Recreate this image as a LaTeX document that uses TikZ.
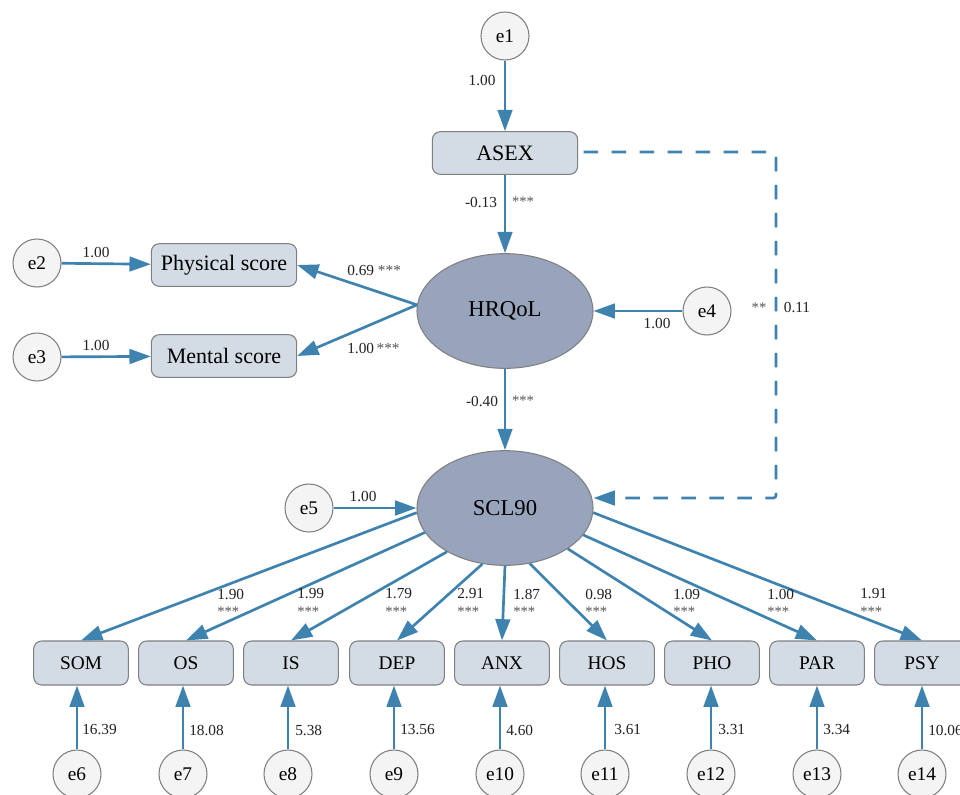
\documentclass[tikz,border=0pt]{standalone}
\usepackage{fontspec}
\setmainfont{Liberation Serif}
\usetikzlibrary{arrows.meta,shapes.geometric}
\definecolor{arr}{HTML}{3E82B0}
\definecolor{boxfill}{HTML}{D3DCE4}
\definecolor{latfill}{HTML}{98A4BB}
\definecolor{errfill}{HTML}{F4F4F4}
\definecolor{bord}{HTML}{808080}
\definecolor{lbl}{HTML}{222222}
\definecolor{star}{HTML}{555555}
\begin{document}
\begin{tikzpicture}[x=0.75pt,y=-0.75pt,
  obsbig/.style={draw=bord,fill=boxfill,rounded corners=6pt,minimum width=109pt,minimum height=32pt,inner sep=0pt,line width=0.8pt,font=\fontsize{16.5}{16.5}\selectfont},
  obs/.style={draw=bord,fill=boxfill,rounded corners=6pt,minimum width=71pt,minimum height=33pt,inner sep=0pt,line width=0.8pt,font=\fontsize{14.5}{14.5}\selectfont},
  lat/.style={ellipse,draw=bord,fill=latfill,minimum width=132pt,minimum height=86pt,inner sep=0pt,line width=0.8pt,font=\fontsize{17}{17}\selectfont},
  errc/.style={circle,draw=bord,fill=errfill,minimum size=36pt,inner sep=0pt,line width=0.8pt,font=\fontsize{14.5}{14.5}\selectfont},
  pth/.style={draw=arr,line width=2pt,-{Triangle[length=16pt,width=11pt]}},
  dsh/.style={draw=arr,line width=2pt,dash pattern=on 11pt off 10pt,rounded corners=2pt,-{Triangle[length=16pt,width=11pt]}},
  num/.style={text=lbl,inner sep=0pt,font=\fontsize{11.5}{11.5}\selectfont},
  stars/.style={text=star,inner sep=0pt,font=\fontsize{11}{11}\selectfont}
]
\useasboundingbox (0,0) rectangle (960,794);
\clip (0,0) rectangle (960,794);
\fill[white] (0,0) rectangle (960,794);

% main nodes
\node[errc] (e1) at (505,36) {e1};
\node[obsbig] (asex) at (505,153) {ASEX};
\node[lat] (hrq) at (505,311) {HRQoL};
\node[obsbig] (phys) at (224,265) {Physical score};
\node[obsbig] (ment) at (224,356) {Mental score};
\node[errc] (e2) at (37,263) {e2};
\node[errc] (e3) at (37,357) {e3};
\node[errc] (e4) at (707,311) {e4};
\node[lat] (scl) at (505,508) {SCL90};
\node[errc] (e5) at (309,508) {e5};

% bottom indicators and errors
\foreach \nm/\bx/\ex/\en/\ang in {SOM/81/77/6/183,OS/186/183/7/197,IS/291/288/8/217,DEP/397/394/9/248,ANX/502/500/10/270,HOS/607/605/11/294,PHO/712/711/12/327,PAR/817/817/13/341,PSY/922/922/14/357}{
  \node[obs] (b\nm) at (\bx,663) {\nm};
  \node[errc] (e\en) at (\ex,774) {e\en};
  \draw[pth] (e\en.north) -- (e\en.north |- b\nm.south);
  \draw[pth] (scl.\ang) -- (b\nm.north);
}

% paths
\draw[pth] (e1) -- (asex);
\draw[pth] (asex) -- (hrq);
\draw[pth] (hrq) -- (scl);
\draw[pth] (e2) -- (phys);
\draw[pth] (e3) -- (ment);
\draw[pth] (hrq.176) -- (phys.east);
\draw[pth] (hrq.176) -- (ment.east);
\draw[pth] (e4) -- (hrq);
\draw[pth] (e5) -- (scl);

\coordinate (c1) at (776,152);
\coordinate (c2) at (776,498);
\draw[dsh,shorten <=4pt] (asex.east |- c1) -- (c1) -- (c2) -- (scl.east |- c2);

% labels
\node[num] (l1) at (482,81) {1.00};
\node[num] (l2) at (481,203) {-0.13};
\node[stars] (s2) at (523,202) {***};
\node[num] (l3) at (96,252) {1.00};
\node[num] (l4) at (96,345) {1.00};
\node[num,anchor=west] (l5) at (347,270) {0.69 \textcolor{star}{***}};
\node[num,anchor=west] (l6) at (347,348) {1.00\,\textcolor{star}{***}};
\node[num] (l7) at (657,323) {1.00};
\node[stars] (s8) at (759,308) {**};
\node[num] (l8) at (797,307) {0.11};
\node[num] (l9) at (482,401) {-0.40};
\node[stars] (s9) at (523,401) {***};
\node[num] (l10) at (363,496) {1.00};

\foreach \v/\lx [count=\i] in {1.90/217,1.99/297,1.79/385,2.91/457,1.87/513,0.98/585,1.09/673,1.00/767,1.91/860}{
  \node[num,anchor=west] (ln\i) at (\lx,594) {\v};
  \node[stars,anchor=west] (ls\i) at (\lx,612) {***};
}
\foreach \v/\lx [count=\i] in {16.39/82,18.08/189,5.38/295,13.56/400,4.60/506,3.61/614,3.31/718,3.34/823,10.06/928}{
  \node[num,anchor=west] (le\i) at (\lx,730) {\v};
}
\end{tikzpicture}
\end{document}
